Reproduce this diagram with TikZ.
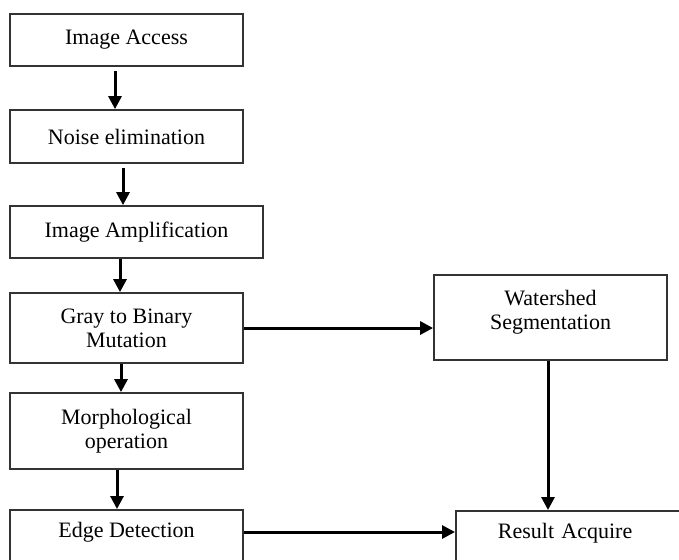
\documentclass[tikz,border=0pt]{standalone}
\usepackage{fontspec}
\setmainfont{Liberation Serif}
\usetikzlibrary{arrows.meta}
\tikzset{blk/.style={draw=black!80, line width=0.9pt, minimum width=116.5pt, align=center, font=\fontsize{11}{12}\selectfont},
flow/.style={-{Triangle[length=6.5pt,width=6.5pt]}, line width=1.5pt},
cut/.style={text height=9pt, text depth=20pt, inner ysep=5pt}}
\begin{document}
\begin{tikzpicture}[x=0.5pt,y=-0.5pt]
\fill[white] (0,0) rectangle (679,559);
\useasboundingbox (0,0) rectangle (679,559);
% left column
\node[blk, minimum height=26pt] (access) at (126.5,40) {Image Access};
\node[blk, minimum height=26.5pt] (noise) at (126.5,136.5) {Noise elimination};
\node[blk, minimum height=26pt, minimum width=126.5pt] (amp) at (136.5,232) {Image Amplification};
\node[blk, minimum height=35pt] (gray) at (126.5,328) {Gray to Binary\\Mutation};
\node[blk, minimum height=38pt] (morph) at (126.5,431) {Morphological\\operation};
\node[blk, cut, anchor=north] (edge) at (126.5,509) {Edge Detection};
% right column
\node[blk, minimum height=42.5pt, text depth=8pt] (water) at (550.5,317.5) {Watershed\\Segmentation};
\node[blk, cut, anchor=north west, text width=140pt, align=left, inner xsep=21pt] (result) at (455,510) {Result Acquire};
% arrows
\draw[flow, shorten <=2pt] ([xshift=-5.75pt]access.south) -- ([xshift=-5.75pt]access.south |- noise.north);
\draw[flow, shorten <=2pt] ([xshift=-1.75pt]noise.south) -- ([xshift=-1.75pt]noise.south |- amp.north);
\draw[flow] ([xshift=-8.25pt]amp.south) -- ([xshift=-8.25pt]amp.south |- gray.north);
\draw[flow] ([xshift=-2.75pt]gray.south) -- ([xshift=-2.75pt]gray.south |- morph.north);
\draw[flow] ([xshift=-4.75pt]morph.south) -- ([xshift=-4.75pt]morph.south |- edge.north);
\draw[flow] (gray.east) -- (gray.east -| water.west);
\draw[flow] ([xshift=-1.25pt]water.south) -- ([xshift=-1.25pt]water.south |- result.north);
\draw[flow] ([yshift=-11.5pt]edge.north east) -- ([yshift=-11.5pt]edge.north east -| result.west);
\end{tikzpicture}
\end{document}
